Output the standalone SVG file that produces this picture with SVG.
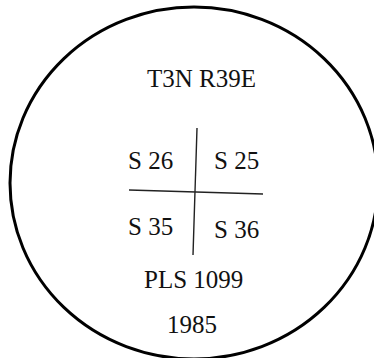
<svg xmlns="http://www.w3.org/2000/svg" width="374" height="358" viewBox="0 0 374 358">
  <style>
    .t { font-family: "Liberation Serif", "Times New Roman", serif; font-size: 25px; fill: #111; }
    .b { fill: none; stroke: #000; stroke-width: 3; }
    .l { fill: none; stroke: #222; stroke-width: 1.4; }
  </style>
  <rect width="374" height="358" fill="#fff"/>
  <g id="boundary">
    <ellipse class="b" cx="194" cy="183" rx="184" ry="176"/>
  </g>
  <g id="connectors">
    <line class="l" x1="197" y1="128" x2="193" y2="255"/>
    <line class="l" x1="129" y1="190" x2="263" y2="194"/>
  </g>
  <g id="township"><text class="t" x="147" y="87" font-size="26">T3N R39E</text></g>
  <g id="s26"><text class="t" x="128" y="169">S 26</text></g>
  <g id="s25"><text class="t" x="214" y="169">S 25</text></g>
  <g id="s35"><text class="t" x="128" y="235">S 35</text></g>
  <g id="s36"><text class="t" x="214" y="238">S 36</text></g>
  <g id="pls"><text class="t" x="144" y="288" font-size="26">PLS 1099</text></g>
  <g id="year"><text class="t" x="167" y="333">1985</text></g>
</svg>
